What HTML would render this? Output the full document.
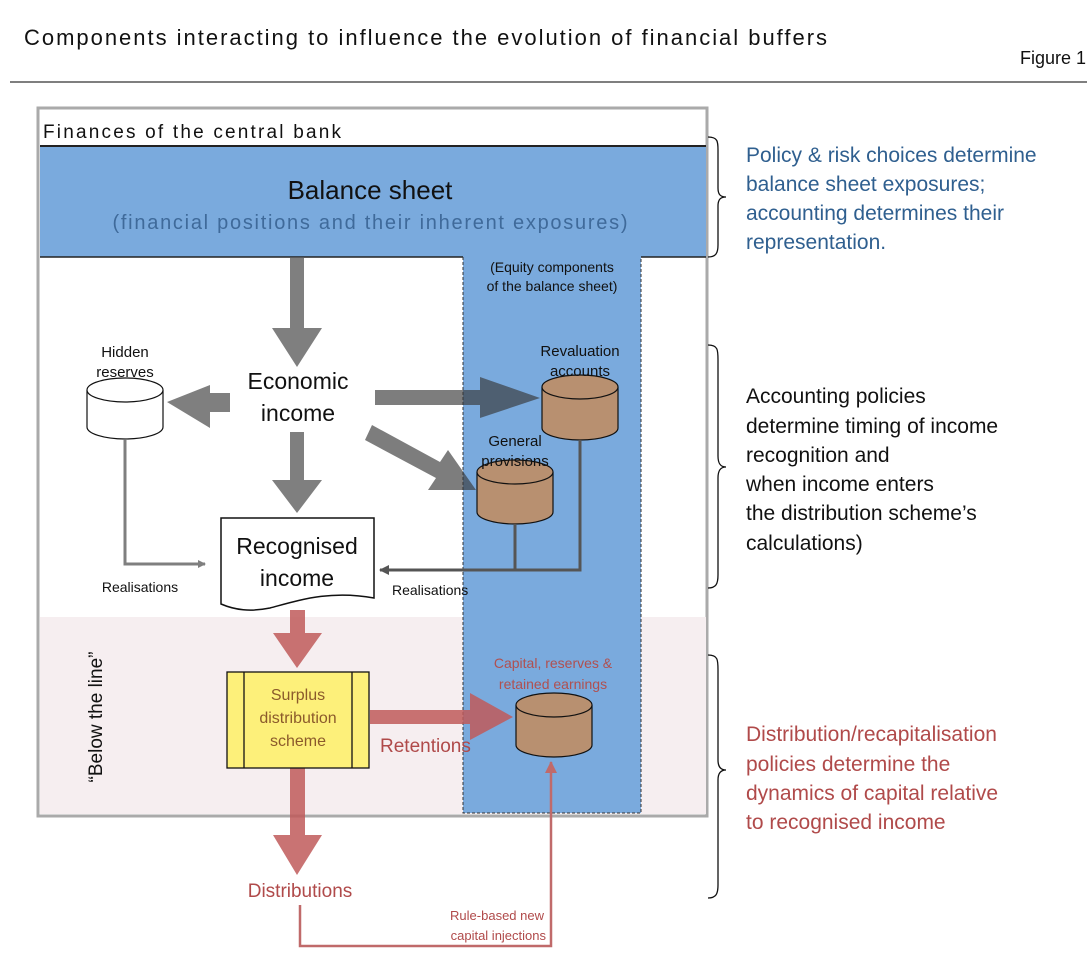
<!DOCTYPE html>
<html><head><meta charset="utf-8"><style>
body{margin:0;background:#fff}
svg{display:block}
text{font-family:"Liberation Sans",sans-serif}
</style></head><body>
<svg width="1087" height="964" viewBox="0 0 1087 964" xmlns="http://www.w3.org/2000/svg">
<defs>
<marker id="ag" markerWidth="8" markerHeight="8" refX="7" refY="4" orient="auto" markerUnits="userSpaceOnUse"><path d="M0,0 L8,4 L0,8z" fill="#7f7f7f"/></marker>
<marker id="ad" markerWidth="10" markerHeight="10" refX="9" refY="5" orient="auto" markerUnits="userSpaceOnUse"><path d="M0,0 L10,5 L0,10z" fill="#555"/></marker>
<marker id="ar" markerWidth="12" markerHeight="12" refX="11" refY="6" orient="auto" markerUnits="userSpaceOnUse"><path d="M0,0 L12,6 L0,12z" fill="#c06a6a"/></marker>
</defs>
<text x="24" y="45" font-size="22" fill="#111" textLength="803">Components interacting to influence the evolution of financial buffers</text>
<text x="1020" y="64" font-size="18" fill="#111">Figure 1</text>
<line x1="10" y1="82" x2="1087" y2="82" stroke="#333" stroke-width="1.2"/>

<!-- outer box -->
<rect x="38" y="108" width="669" height="708" fill="#fff" stroke="#aaa" stroke-width="3"/>
<rect x="40" y="617" width="666" height="197" fill="#f6eef0"/>
<text x="43" y="138" font-size="19" fill="#111" textLength="298">Finances of the central bank</text>
<rect x="40" y="146" width="666" height="111" fill="#7aaadd"/>
<line x1="40" y1="146" x2="706" y2="146" stroke="#222" stroke-width="2"/>
<line x1="40" y1="257" x2="463" y2="257" stroke="#222" stroke-width="1.5"/>
<line x1="641" y1="257" x2="706" y2="257" stroke="#222" stroke-width="1.5"/>
<rect x="463" y="257" width="178" height="556" fill="#7aaadd"/>
<path d="M463,257 V813 H641 V257" fill="none" stroke="#333" stroke-width="1" stroke-dasharray="3,2"/>
<text x="370" y="199" font-size="26" text-anchor="middle" fill="#111">Balance sheet</text>
<text x="370" y="229" font-size="20" text-anchor="middle" fill="#3f6a9a" textLength="515">(financial positions and their inherent exposures)</text>
<text x="552" y="272" font-size="14" text-anchor="middle" fill="#111">(Equity components</text>
<text x="552" y="291" font-size="14" text-anchor="middle" fill="#111">of the balance sheet)</text>

<!-- gray arrows -->
<g fill="#7f7f7f">
<path d="M290,258 H304 V328 H322 L297,367 L272,328 H290z"/>
<path d="M230,393 V412 H210 V428 L167,402 L210,385 V393z"/>
<path d="M290,432 H304 V480 H322 L297,513 L272,480 H290z"/>
</g>
<g fill="rgba(55,55,55,0.65)">
<path d="M375,390 H480 V377 L540,398 L480,418 V405 H375z"/>
<path d="M372,425 L440,462 L448,450 L476,490 L428,490 L436,478 L365,440z"/>
</g>

<!-- cylinders -->
<g stroke="#111" stroke-width="1.2">
<path d="M87,390 V427 A38,12 0 0 0 163,427 V390" fill="#fff"/>
<ellipse cx="125" cy="390" rx="38" ry="12" fill="#fff"/>
<path d="M542,387 V428 A38,12 0 0 0 618,428 V387" fill="#b89070"/>
<ellipse cx="580" cy="387" rx="38" ry="12" fill="#b89070"/>
<path d="M477,472 V512 A38,12 0 0 0 553,512 V472" fill="#b89070"/>
<ellipse cx="515" cy="472" rx="38" ry="12" fill="#b89070"/>
<path d="M516,705 V745 A38,12 0 0 0 592,745 V705" fill="#b89070"/>
<ellipse cx="554" cy="705" rx="38" ry="12" fill="#b89070"/>
</g>
<g font-size="15" text-anchor="middle" fill="#111">
<text x="125" y="357">Hidden</text><text x="125" y="377">reserves</text>
<text x="580" y="356">Revaluation</text><text x="580" y="376">accounts</text>
<text x="515" y="446">General</text><text x="515" y="466">provisions</text>
</g>
<text x="298" y="389" font-size="23" text-anchor="middle" fill="#111">Economic</text>
<text x="298" y="421" font-size="23" text-anchor="middle" fill="#111">income</text>

<!-- realisation lines -->
<path d="M125,440 V564 H205" fill="none" stroke="#7f7f7f" stroke-width="3" marker-end="url(#ag)"/>
<path d="M580,440 V570 H380" fill="none" stroke="#555" stroke-width="3" marker-end="url(#ad)"/>
<line x1="515" y1="524" x2="515" y2="570" stroke="#555" stroke-width="3"/>
<text x="140" y="592" font-size="14" text-anchor="middle" fill="#111">Realisations</text>
<text x="392" y="595" font-size="14" fill="#111">Realisations</text>

<!-- recognised income doc -->
<path d="M221,518 H374 V598 C330,590 300,600 270,608 C250,612 235,610 221,604z" fill="#fff" stroke="#111" stroke-width="1.5"/>
<text x="297" y="554" font-size="23" text-anchor="middle" fill="#111">Recognised</text>
<text x="297" y="586" font-size="23" text-anchor="middle" fill="#111">income</text>

<!-- red arrows -->
<g fill="rgba(192,90,90,0.85)">
<path d="M290,610 H305 V633 H322 L297,668 L273,633 H290z"/>
<path d="M370,710 H470 V693 L513,717 L470,740 V724 H370z"/>
<path d="M290,768 H305 V835 H322 L297,875 L273,835 H290z"/>
</g>

<!-- surplus -->
<rect x="227" y="672" width="142" height="96" fill="#fdf07a" stroke="#111" stroke-width="1.3"/>
<line x1="244" y1="672" x2="244" y2="768" stroke="#111" stroke-width="1.3"/>
<line x1="352" y1="672" x2="352" y2="768" stroke="#111" stroke-width="1.3"/>
<g font-size="16" text-anchor="middle" fill="#8b5a2b">
<text x="298" y="700">Surplus</text><text x="298" y="723">distribution</text><text x="298" y="746">scheme</text>
</g>
<text x="380" y="752" font-size="19" fill="#b04a4a">Retentions</text>
<text x="553" y="668" font-size="14" text-anchor="middle" fill="#b05050">Capital, reserves &amp;</text>
<text x="553" y="689" font-size="14" text-anchor="middle" fill="#b05050">retained earnings</text>
<text x="300" y="897" font-size="19" text-anchor="middle" fill="#b04a4a">Distributions</text>
<path d="M300,905 V946 H551 V762" fill="none" stroke="#c06a6a" stroke-width="2.5" marker-end="url(#ar)"/>
<text x="544" y="920" font-size="13" text-anchor="end" fill="#b04a4a">Rule-based new</text>
<text x="546" y="940" font-size="13" text-anchor="end" fill="#b04a4a">capital injections</text>
<text transform="translate(102,717) rotate(-90)" font-size="19" text-anchor="middle" fill="#111">“Below the line”</text>

<!-- brackets -->
<g fill="none" stroke="#111" stroke-width="1.3">
<path d="M708,137 C718,137 718,142 718,150 V188 C718,194 720,197 726,197 C720,197 718,200 718,206 V245 C718,253 716,257 708,257"/>
<path d="M708,345 C718,345 718,350 718,360 V456 C718,463 720,467 726,467 C720,467 718,471 718,478 V575 C718,584 716,588 708,588"/>
<path d="M708,655 C718,655 718,660 718,670 V760 C718,766 720,770 726,770 C720,770 718,774 718,780 V885 C718,894 716,898 708,898"/>
</g>
<g font-size="21" fill="#2f5f8f">
<text x="746" y="162">Policy &amp; risk choices determine</text>
<text x="746" y="191">balance sheet exposures;</text>
<text x="746" y="220">accounting determines their</text>
<text x="746" y="249">representation.</text>
</g>
<g font-size="21" fill="#111">
<text x="746" y="403">Accounting policies</text>
<text x="746" y="433">determine timing of income</text>
<text x="746" y="462">recognition and</text>
<text x="746" y="491">when income enters</text>
<text x="746" y="520">the distribution scheme’s</text>
<text x="746" y="550"> calculations)</text>
</g>
<g font-size="21" fill="#b04a4a">
<text x="746" y="741">Distribution/recapitalisation</text>
<text x="746" y="771">policies determine the</text>
<text x="746" y="800">dynamics of capital relative</text>
<text x="746" y="829">to recognised income</text>
</g>
</svg>
</body></html>
